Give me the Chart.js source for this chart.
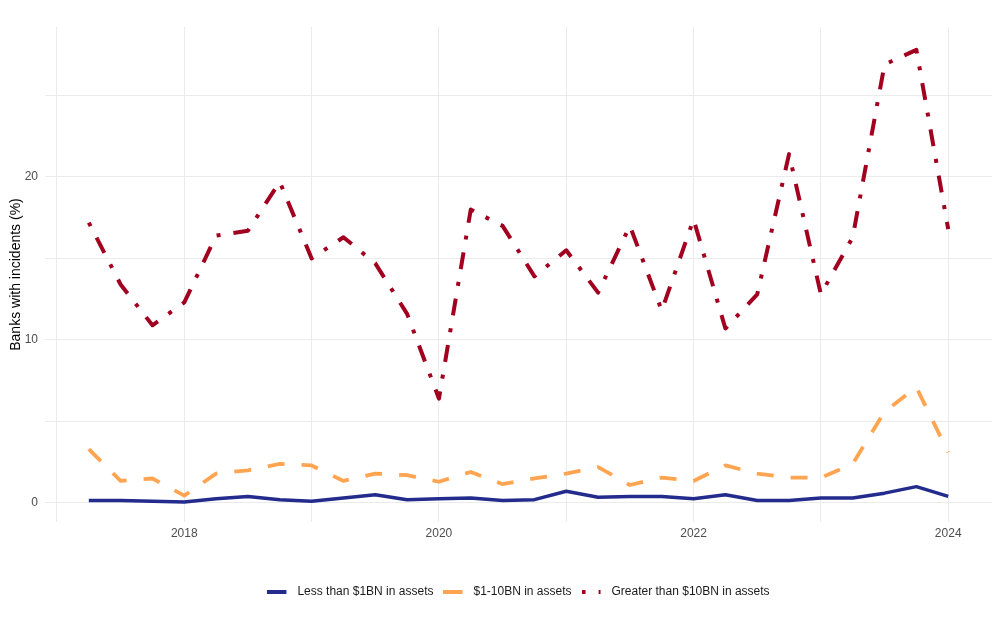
<!DOCTYPE html>
<html>
<head>
<meta charset="utf-8">
<script src="https://cdn.jsdelivr.net/npm/chart.js@4"></script>
<style>
  body { margin: 0; background: #fff; }
  #wrap { width: 1000px; height: 640px; }
</style>
</head>
<body>
<div id="wrap"><canvas id="incidentsChart" width="1000" height="640"></canvas></div>
<script>
// quarterly observations, 2017 Q2 .. 2024 Q1
const quarters = [
  '2017Q2', '2017Q3', '2017Q4', '2018Q1', '2018Q2', '2018Q3', '2018Q4',
  '2019Q1', '2019Q2', '2019Q3', '2019Q4', '2020Q1', '2020Q2', '2020Q3',
  '2020Q4', '2021Q1', '2021Q2', '2021Q3', '2021Q4', '2022Q1', '2022Q2',
  '2022Q3', '2022Q4', '2023Q1', '2023Q2', '2023Q3', '2023Q4', '2024Q1',
];

const smallBanks = [0.15, 0.15, 0.1, 0.05, 0.25, 0.4, 0.2, 0.1, 0.3, 0.5, 0.2, 0.25, 0.3, 0.15,
  0.2, 0.72, 0.35, 0.4, 0.4, 0.25, 0.5, 0.15, 0.15, 0.3, 0.3, 0.6, 1.0, 0.4];
const midBanks = [3.3, 1.35, 1.5, 0.45, 1.8, 2.0, 2.4, 2.3, 1.35, 1.8, 1.7, 1.3, 1.9, 1.15,
  1.5, 1.8, 2.2, 1.1, 1.55, 1.35, 2.3, 1.8, 1.55, 1.55, 2.4, 5.6, 7.1, 3.1];
const largeBanks = [17.2, 13.4, 10.9, 12.3, 16.4, 16.7, 19.7, 15.0, 16.3, 14.7, 11.6, 6.4, 18.0, 17.0,
  13.9, 15.5, 12.9, 17.0, 11.8, 17.4, 10.7, 12.8, 21.4, 12.8, 16.3, 26.9, 27.8, 16.8];

const seriesNames = ['Less than $1BN in assets', '$1-10BN in assets', 'Greater than $10BN in assets'];
const yTicksShown = [0, 10, 20];
const xTicksShown = [2018, 2020, 2022, 2024];

const FONT = '"Liberation Sans", Arial, sans-serif';
const COLORS = ['#232B8C', '#FFA552', '#A1001F'];
const DASHES = [[], [17, 17], [4, 13, 17, 13]];
const LEGEND_DASHES = [[], [], [4, 13, 2, 40]];

// '2018Q3' -> 2018.5
const toYear = (q) => Number(q.slice(0, 4)) + (Number(q.slice(5)) - 1) / 4;
const pts = (vals) => vals.map((v, i) => ({ x: toYear(quarters[i]), y: v }));

// small line sample for the legend key (line at left, blank on the right)
function legendKey(color, dash, width) {
  const c = document.createElement('canvas');
  c.width = 24;
  c.height = 8;
  const g = c.getContext('2d');
  g.strokeStyle = color;
  g.lineWidth = width;
  g.setLineDash(dash);
  g.beginPath();
  g.moveTo(0, 4);
  g.lineTo(19, 4);
  g.stroke();
  return c;
}

document.addEventListener('DOMContentLoaded', () => {
  const ctx = document.getElementById('incidentsChart');
  const series = [smallBanks, midBanks, largeBanks];
  const widths = [3.5, 3.8, 4];

  new Chart(ctx, {
    type: 'line',
    data: {
      datasets: series.map((vals, i) => ({
        label: seriesNames[i],
        data: pts(vals),
        borderColor: COLORS[i],
        backgroundColor: COLORS[i],
        borderWidth: widths[i],
        borderDash: DASHES[i],
        borderJoinStyle: 'round',
      })),
    },
    options: {
      responsive: false,
      animation: false,
      events: [],
      elements: {
        point: { radius: 0 },
        line: { tension: 0, fill: false },
      },
      layout: { padding: { top: 27, right: 8, bottom: 32, left: 0 } },
      plugins: {
        tooltip: { enabled: false },
        legend: {
          position: 'bottom',
          fullSize: false,
          labels: {
            usePointStyle: true,
            pointStyleWidth: 24,
            padding: 10,
            color: '#1a1a1a',
            font: { family: FONT, size: 12 },
            generateLabels: (chart) => chart.data.datasets.map((ds, i) => ({
              text: ds.label,
              fontColor: '#1a1a1a',
              pointStyle: legendKey(COLORS[i], LEGEND_DASHES[i], 4),
              lineWidth: 0,
              hidden: false,
              datasetIndex: i,
            })),
          },
        },
      },
      scales: {
        x: {
          type: 'linear',
          min: 2016.906,
          max: 2024.344,
          border: { display: false },
          grid: { color: '#ebebeb', lineWidth: 1, drawTicks: false },
          afterFit: (s) => { s.height = 54; },
          ticks: {
            stepSize: 1,
            includeBounds: false,
            autoSkip: false,
            maxRotation: 0,
            padding: 4,
            color: '#4d4d4d',
            font: { family: FONT, size: 12 },
            callback: (v) => (xTicksShown.includes(v) ? String(v) : ''),
          },
        },
        y: {
          min: -1.17,
          max: 29.2,
          border: { display: false },
          grid: { color: '#ebebeb', lineWidth: 1, drawTicks: false },
          afterFit: (s) => { s.width = 45; },
          ticks: {
            stepSize: 5,
            includeBounds: false,
            autoSkip: false,
            padding: 7,
            color: '#4d4d4d',
            font: { family: FONT, size: 12 },
            callback: (v) => (yTicksShown.includes(v) ? String(v) : ''),
          },
          title: {
            display: true,
            text: 'Banks with incidents (%)',
            color: '#000',
            padding: 8,
            font: { family: FONT, size: 14 },
          },
        },
      },
    },
  });
});
</script>
</body>
</html>
